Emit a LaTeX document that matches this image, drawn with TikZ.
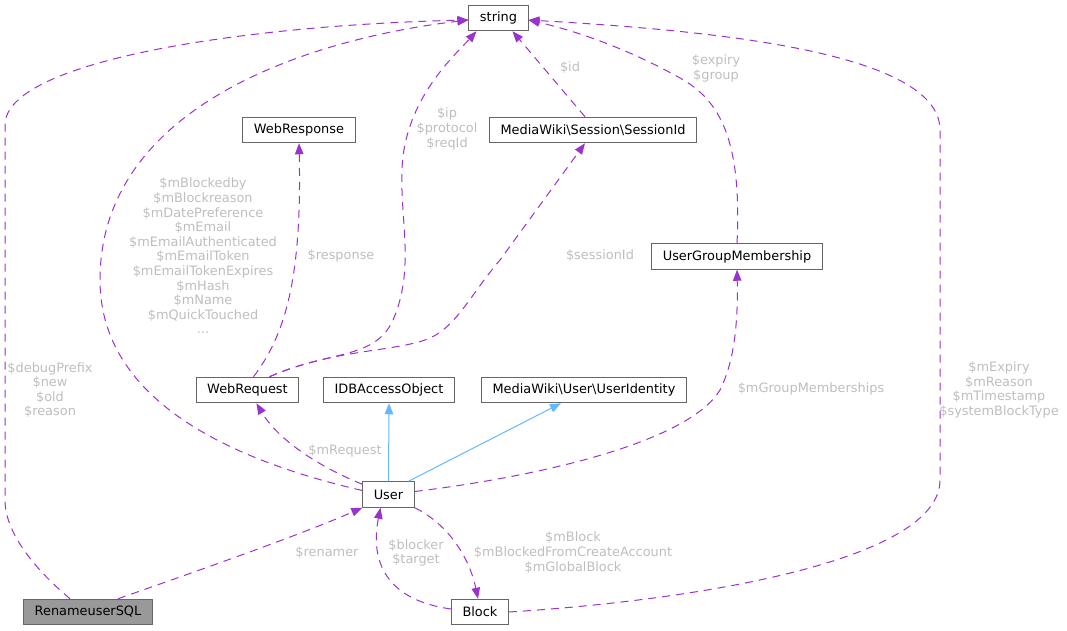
\documentclass[tikz,border=0pt]{standalone}
\usepackage{fontspec}
\setmainfont{DejaVu Sans}
\usetikzlibrary{arrows.meta}

\definecolor{edgepurple}{HTML}{9A32CD}
\definecolor{edgeblue}{HTML}{63B8FF}
\definecolor{boxgrey}{HTML}{666666}
\definecolor{fillgrey}{HTML}{999999}
\definecolor{labelgrey}{HTML}{BEBEBE}

\tikzset{
  cls/.style={draw=boxgrey, line width=1pt, fill=white, inner xsep=11pt, inner ysep=0pt, minimum height=25.5pt},
  mainclass/.style={cls, fill=fillgrey},
  uses/.style={draw=edgepurple, line width=1pt, dash pattern=on 8pt off 6pt, -{Triangle[length=11pt,width=8.5pt]}},
  inherits/.style={draw=edgeblue, line width=1pt, -{Triangle[length=11pt,width=8.5pt]}},
  elabel/.style={text=labelgrey, align=center, inner sep=0pt}
}

\begin{document}
\begin{tikzpicture}[x=1pt, y=-1pt, font=\fontsize{12.9}{14.6}\selectfont]
        \useasboundingbox (0,0) rectangle (1067,631);

        % nodes
        \node (string) [cls] at (498.5,18) {string};
        \node (webresp) [cls] at (299,130) {WebResponse};
        \node (sessid) [cls] at (593,130) {MediaWiki\textbackslash Session\textbackslash SessionId};
        \node (ugm) [cls] at (737,256.5) {UserGroupMembership};
        \node (webreq) [cls] at (247.5,390) {WebRequest};
        \node (idbao) [cls] at (389,390) {IDBAccessObject};
        \node (uident) [cls] at (584,390) {MediaWiki\textbackslash User\textbackslash UserIdentity};
        \node (user) [cls] at (388.5,494.5) {User};
        \node (rsql) [mainclass] at (88,612) {RenameuserSQL};
        \node (block) [cls] at (480,612) {Block};

        % edges
        \draw[uses] ([xshift=-18pt]rsql.north) .. controls (30,565) and (5,530) .. (5,500)
            -- (5,125) .. controls (5,60) and (250,25) .. ([yshift=-2pt]string.west);
        \draw[uses] ([yshift=4pt]user.west) .. controls (230,460) and (100,400) .. (100,280)
            .. controls (100,110) and (300,40) .. ([yshift=-2pt]string.west);
        \draw[uses] ([xshift=22pt]webreq.north) .. controls (330,350) and (375,360) .. (393,320)
            .. controls (415,270) and (400,220) .. (402,170)
            .. controls (404,100) and (455,55) .. ([xshift=-22pt]string.south);
        \draw[uses] ([xshift=22pt]webreq.north) .. controls (330,350) and (390,352) .. (425,340)
            .. controls (455,330) and (470,295) .. (500,260) -- ([xshift=-8pt]sessid.south);
        \draw[uses] ([xshift=6pt]webreq.north) .. controls (285,335) and (302,280) .. (webresp.south);
        \draw[uses] ([xshift=-8pt]sessid.north) -- ([xshift=14pt]string.south);
        \draw[uses] (ugm.north) .. controls (742,140) and (720,100) .. (680,78)
            .. controls (630,50) and (580,32) .. ([yshift=-2pt]string.east);
        \draw[uses] (block.east) .. controls (700,600) and (940,560) .. (940,480)
            -- (940,130) .. controls (940,50) and (700,30) .. ([yshift=-2pt]string.east);
        \draw[uses] ([yshift=-3pt]user.north west) .. controls (310,463) and (275,435) .. ([xshift=9pt]webreq.south);
        \draw[inherits] (user.north) -- (idbao.south);
        \draw[inherits] ([xshift=20pt]user.north) -- ([xshift=-23pt]uident.south);
        \draw[uses] ([yshift=3pt]user.east) .. controls (550,475) and (690,440) .. (720,390)
            .. controls (735,360) and (738,320) .. (ugm.south);
        \draw[uses] ([xshift=30pt]rsql.north) .. controls (200,570) and (300,535) .. (user.south west);
        \draw[uses] (user.south east) .. controls (450,525) and (470,560) .. ([xshift=-2pt]block.north);
        \draw[uses] ([yshift=3pt]block.west) .. controls (385,600) and (370,560) .. ([xshift=-8pt]user.south);

        % labels
        \node (lrsqlstr) [elabel] at (50,390) {\$debugPrefix\\\$new\\\$old\\\$reason};
        \node (luserstr) [elabel] at (203,256) {\$mBlockedby\\\$mBlockreason\\\$mDatePreference\\\$mEmail\\\$mEmailAuthenticated\\\$mEmailToken\\\$mEmailTokenExpires\\\$mHash\\\$mName\\\$mQuickTouched\\...};
        \node (lresp) [elabel] at (341,256) {\$response};
        \node (lreqstr) [elabel] at (447,129) {\$ip\\\$protocol\\\$reqId};
        \node (lid) [elabel] at (570,68) {\$id};
        \node (lugmstr) [elabel] at (716,68.5) {\$expiry\\\$group};
        \node (lsess) [elabel] at (600,256) {\$sessionId};
        \node (lgroups) [elabel] at (811,389) {\$mGroupMemberships};
        \node (lblockstr) [elabel] at (999,390) {\$mExpiry\\\$mReason\\\$mTimestamp\\\$systemBlockType};
        \node (lreq) [elabel] at (345,451) {\$mRequest};
        \node (lrenamer) [elabel] at (327,553) {\$renamer};
        \node (lblocker) [elabel] at (416,553) {\$blocker\\\$target};
        \node (lmblock) [elabel] at (573,552.5) {\$mBlock\\\$mBlockedFromCreateAccount\\\$mGlobalBlock};
    \end{tikzpicture}
\end{document}
